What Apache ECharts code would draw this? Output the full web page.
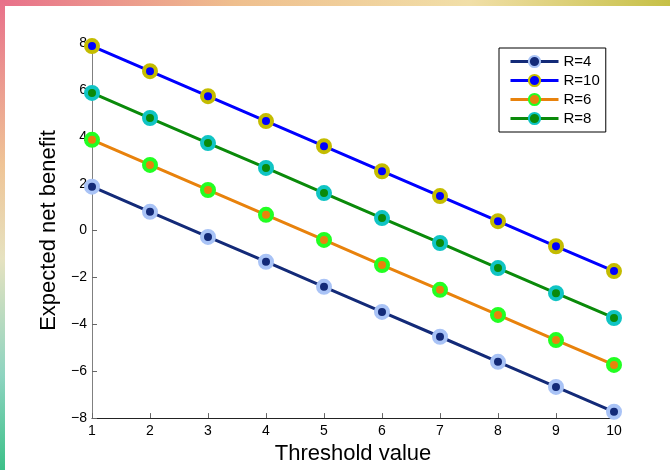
<!DOCTYPE html>
<html>
<head>
<meta charset="utf-8">
<script src="https://cdn.jsdelivr.net/npm/echarts@6/dist/echarts.min.js"></script>
<style>
html,body{margin:0;padding:0;background:#fff;}
#chart{width:670px;height:470px;}
</style>
</head>
<body>
<div id="chart"></div>
<script>
var thresholds = [1, 2, 3, 4, 5, 6, 7, 8, 9, 10];
var seriesNames = ['R=4', 'R=10', 'R=6', 'R=8'];
var r4 = [1.87, 0.8, -0.27, -1.33, -2.4, -3.47, -4.53, -5.6, -6.67, -7.73];
var r10 = [7.87, 6.8, 5.73, 4.67, 3.6, 2.53, 1.47, 0.4, -0.67, -1.73];
var r6 = [3.87, 2.8, 1.73, 0.67, -0.4, -1.47, -2.53, -3.6, -4.67, -5.73];
var r8 = [5.87, 4.8, 3.73, 2.67, 1.6, 0.53, -0.53, -1.6, -2.67, -3.73];

var lineColors = ['#132a78', '#0000ff', '#e8820c', '#0a8a0a'];
var edgeColors = ['#a9c3f6', '#c4bc00', '#22ff22', '#10c4c4'];

var myChart = echarts.init(document.getElementById('chart'));

function pairs(vals) {
	var out = [];
	for (var i = 0; i < thresholds.length; i++) {
		out.push([thresholds[i], vals[i]]);
	}
	return out;
}

var allVals = [r4, r10, r6, r8];
var series = [];
for (var k = 0; k < seriesNames.length; k++) {
	series.push({
		name: seriesNames[k],
		type: 'line',
		data: pairs(allVals[k]),
		symbol: 'circle',
		symbolSize: 12,
		showAllSymbol: true,
		lineStyle: {color: lineColors[k], width: 3},
		itemStyle: {color: lineColors[k], borderColor: edgeColors[k], borderWidth: 4},
		emphasis: {disabled: true},
		z: 2 + k
	});
}

var minus = function(v) { return String(v).replace('-', '\u2212'); };

var option = {
	backgroundColor: '#fff',
	animation: false,
	graphic: [
		{
			type: 'rect', left: 0, top: 0, z: 100,
			shape: {width: 670, height: 6},
			style: {fill: new echarts.graphic.LinearGradient(0, 0, 1, 0, [
				{offset: 0, color: '#e8708a'},
				{offset: 0.35, color: '#efbf8e'},
				{offset: 0.7, color: '#f1dfa8'},
				{offset: 1, color: '#c6c046'}
			])}
		},
		{
			type: 'rect', left: 0, top: 0, z: 100,
			shape: {width: 5, height: 470},
			style: {fill: new echarts.graphic.LinearGradient(0, 0, 0, 1, [
				{offset: 0, color: '#e8708a'},
				{offset: 0.35, color: '#efc496'},
				{offset: 0.55, color: '#e6e2c0'},
				{offset: 0.8, color: '#8ed4c0'},
				{offset: 1, color: '#3cc088'}
			])}
		}
	],
	legend: {
		data: seriesNames,
		orient: 'vertical',
		left: 499,
		top: 48,
		padding: [6, 6, 6, 10],
		itemGap: 4,
		itemWidth: 48,
		itemHeight: 14,
		backgroundColor: '#fff',
		borderColor: '#000',
		borderWidth: 1,
		lineStyle: {width: 3},
		textStyle: {fontFamily: 'Liberation Sans', fontSize: 15, color: '#000'}
	},
	grid: {left: 92, right: 56, top: 43, bottom: 50, containLabel: false},
	xAxis: {
		type: 'value',
		min: 1,
		max: 10,
		interval: 1,
		name: 'Threshold value',
		nameLocation: 'middle',
		nameGap: 24,
		nameTextStyle: {fontFamily: 'Liberation Sans', fontSize: 22, color: '#000'},
		axisLine: {show: true, onZero: false, lineStyle: {color: '#222', width: 1}},
		axisTick: {show: true, inside: true, length: 5, lineStyle: {color: '#666'}},
		axisLabel: {fontFamily: 'Liberation Sans', fontSize: 14, color: '#000', margin: 6, formatter: minus},
		splitLine: {show: false}
	},
	yAxis: {
		type: 'value',
		min: -8,
		max: 8,
		interval: 2,
		name: 'Expected net benefit',
		nameLocation: 'middle',
		nameGap: 30,
		nameTextStyle: {fontFamily: 'Liberation Sans', fontSize: 22, color: '#000'},
		axisLine: {show: true, onZero: false, lineStyle: {color: '#808080', width: 1}},
		axisTick: {show: true, inside: true, length: 5, lineStyle: {color: '#666'}},
		axisLabel: {fontFamily: 'Liberation Sans', fontSize: 14, color: '#000', margin: 5, formatter: minus},
		splitLine: {show: false}
	},
	series: series
};

myChart.setOption(option);
</script>
</body>
</html>
